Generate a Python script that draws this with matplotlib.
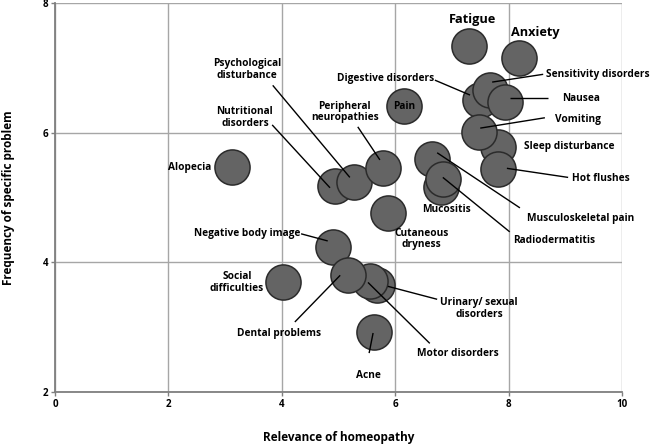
import matplotlib
matplotlib.use("Agg")
import matplotlib.pyplot as plt

plt.rcParams['font.family'] = ['Open Sans', 'DejaVu Sans']

# ---- data ----
problems = ["Fatigue", "Anxiety", "Digestive disorders", "Sensitivity disorders", "Nausea",
            "Sleep disturbance", "Vomiting", "Hot flushes", "Pain", "Musculoskeletal pain",
            "Mucositis", "Radiodermatitis", "Alopecia", "Nutritional disorders",
            "Psychological disturbance", "Peripheral neuropathies", "Cutaneous dryness",
            "Negative body image", "Social difficulties", "Urinary/ sexual disorders",
            "Motor disorders", "Dental problems", "Acne"]
relevance = [7.30, 8.18, 7.50, 7.67, 7.94,
             7.81, 7.48, 7.81, 6.16, 6.65,
             6.81, 6.84, 3.12, 4.94,
             5.27, 5.78, 5.87,
             4.90, 4.02, 5.68,
             5.56, 5.17, 5.63]
frequency = [7.34, 7.15, 6.50, 6.66, 6.47,
             5.78, 6.01, 5.44, 6.41, 5.59,
             5.16, 5.28, 5.47, 5.18,
             5.24, 5.45, 4.76,
             4.23, 3.69, 3.65,
             3.71, 3.80, 2.92]

x_ticks = [0, 2, 4, 6, 8, 10]
y_ticks = [2, 4, 6, 8]

# ---- layout: label text position, alignment, optional leader line (start, end) ----
labels = {
    "Fatigue": dict(pos=(7.37, 7.74), ha="center", big=True),
    "Anxiety": dict(pos=(8.47, 7.54), ha="center", big=True),
    "Digestive disorders": dict(pos=(6.68, 6.83), ha="right", line=((7.32, 6.58), (6.70, 6.81))),
    "Sensitivity disorders": dict(pos=(8.66, 6.89), ha="left", line=((7.71, 6.78), (8.61, 6.90))),
    "Nausea": dict(pos=(8.94, 6.53), ha="left", line=((8.02, 6.53), (8.69, 6.53))),
    "Vomiting": dict(pos=(8.82, 6.21), ha="left", line=((7.50, 6.07), (8.64, 6.23))),
    "Sleep disturbance": dict(pos=(8.27, 5.79), ha="left"),
    "Hot flushes": dict(pos=(9.12, 5.30), ha="left", line=((7.97, 5.45), (9.05, 5.31))),
    "Pain": dict(pos=(6.16, 6.41), ha="center"),
    "Musculoskeletal pain": dict(pos=(8.32, 4.68), ha="left", line=((6.74, 5.69), (8.20, 4.84))),
    "Mucositis": dict(pos=(6.90, 4.81), ha="center"),
    "Radiodermatitis": dict(pos=(8.08, 4.34), ha="left", line=((6.84, 5.31), (8.02, 4.47))),
    "Alopecia": dict(pos=(2.75, 5.47), ha="right"),
    "Nutritional disorders": dict(pos=(3.35, 6.24), ha="center", text="Nutritional\ndisorders",
                                  line=((4.85, 5.15), (3.83, 6.12))),
    "Psychological disturbance": dict(pos=(3.39, 6.97), ha="center", text="Psychological\ndisturbance",
                                      line=((5.20, 5.31), (3.84, 6.73))),
    "Peripheral neuropathies": dict(pos=(5.11, 6.32), ha="center", text="Peripheral\nneuropathies",
                                    line=((5.73, 5.58), (5.34, 6.09))),
    "Cutaneous dryness": dict(pos=(6.47, 4.36), ha="center", text="Cutaneous\ndryness"),
    "Negative body image": dict(pos=(4.32, 4.45), ha="right", line=((4.81, 4.33), (4.34, 4.44))),
    "Social difficulties": dict(pos=(3.21, 3.69), ha="center", text="Social\ndifficulties"),
    "Urinary/ sexual disorders": dict(pos=(7.48, 3.29), ha="center", text="Urinary/ sexual\ndisorders",
                                      line=((5.87, 3.63), (6.74, 3.43))),
    "Motor disorders": dict(pos=(7.11, 2.60), ha="center", line=((5.52, 3.69), (6.61, 2.75))),
    "Dental problems": dict(pos=(3.95, 2.91), ha="center", line=((5.03, 3.80), (4.23, 3.08))),
    "Acne": dict(pos=(5.52, 2.26), ha="center", line=((5.61, 2.91), (5.54, 2.60))),
}

fig = plt.figure(figsize=(6.5, 4.48), dpi=100)
ax = fig.add_axes([55 / 650, 1 - 392 / 448, 567 / 650, 389 / 448])

ax.set_xlim(0, 10)
ax.set_ylim(2, 8)
ax.set_xticks(x_ticks)
ax.set_yticks(y_ticks)
ax.grid(True, color="#a6a6a6", linewidth=1.0, zorder=0)
ax.set_axisbelow(True)
for side in ("top", "right"):
    ax.spines[side].set_visible(False)
for side in ("left", "bottom"):
    ax.spines[side].set_color("#7f7f7f")
    ax.spines[side].set_linewidth(1.3)
ax.tick_params(axis="both", length=3, width=1, color="#7f7f7f", labelsize=7, pad=2)
for lab in ax.get_xticklabels() + ax.get_yticklabels():
    lab.set_fontweight("bold")

ax.scatter(relevance, frequency, s=640, color="#646464", edgecolors="#2b2b2b",
           linewidths=1.1, zorder=3, clip_on=False)

for name in problems:
    cfg = labels[name]
    if "line" in cfg:
        (x0, y0), (x1, y1) = cfg["line"]
        ax.plot([x0, x1], [y0, y1], color="black", linewidth=1.0, zorder=5, solid_capstyle="butt")
    big = cfg.get("big", False)
    ax.text(cfg["pos"][0], cfg["pos"][1], cfg.get("text", name), ha=cfg["ha"], va="center",
            fontsize=9.2 if big else 7.3, fontweight="bold",
            linespacing=1.1, zorder=6, color="black")

ax.set_xlabel("Relevance of homeopathy", fontsize=8.5, fontweight="bold", labelpad=15)
ax.set_ylabel("Frequency of specific problem", fontsize=8.5, fontweight="bold", labelpad=19.5)

fig.savefig("out.png", dpi=100)
